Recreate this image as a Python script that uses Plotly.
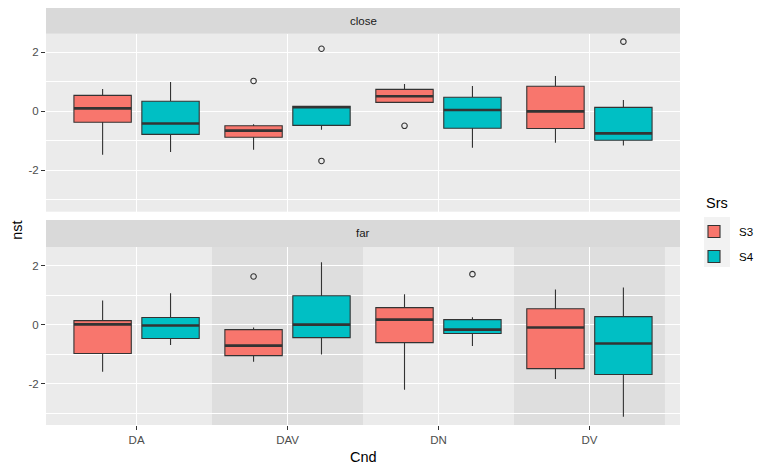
import plotly.graph_objects as go
from plotly.subplots import make_subplots

categories = ["DA", "DAV", "DN", "DV"]
facets = ["close", "far"]
series = ["S3", "S4"]
colors = {"S3": "#F8766D", "S4": "#00BFC4"}
y_tickvals = [-2, 0, 2]
y_ticktext = ["-2", "0", "2"]
y_minorvals = [-3, -1, 1]

# close facet
close_S3_lo = [-1.47, -1.30, 0.305, -1.06]
close_S3_q1 = [-0.37, -0.88, 0.305, -0.58]
close_S3_med = [0.10, -0.655, 0.51, 0.0]
close_S3_q3 = [0.54, -0.49, 0.745, 0.85]
close_S3_hi = [0.76, -0.44, 0.93, 1.20]
close_S3_out = [[], [1.03], [-0.49], []]

close_S4_lo = [-1.38, -0.62, -1.23, -1.16]
close_S4_q1 = [-0.78, -0.475, -0.575, -0.98]
close_S4_med = [-0.41, 0.14, 0.045, -0.745]
close_S4_q3 = [0.34, 0.17, 0.475, 0.135]
close_S4_hi = [0.99, 0.17, 0.86, 0.385]
close_S4_out = [[], [2.12, -1.68], [], [2.36]]

# far facet
far_S3_lo = [-1.60, -1.26, -2.21, -1.84]
far_S3_q1 = [-0.98, -1.05, -0.61, -1.49]
far_S3_med = [0.01, -0.71, 0.17, -0.10]
far_S3_q3 = [0.135, -0.17, 0.575, 0.54]
far_S3_hi = [0.82, -0.10, 1.03, 1.19]
far_S3_out = [[], [1.63], [], []]

far_S4_lo = [-0.69, -1.01, -0.72, -3.12]
far_S4_q1 = [-0.47, -0.44, -0.30, -1.69]
far_S4_med = [-0.03, 0.0, -0.17, -0.64]
far_S4_q3 = [0.24, 0.98, 0.17, 0.27]
far_S4_hi = [1.06, 2.11, 0.25, 1.26]
far_S4_out = [[], [], [1.71], []]

data = {
    ("close", "S3"): (close_S3_lo, close_S3_q1, close_S3_med, close_S3_q3, close_S3_hi, close_S3_out),
    ("close", "S4"): (close_S4_lo, close_S4_q1, close_S4_med, close_S4_q3, close_S4_hi, close_S4_out),
    ("far", "S3"): (far_S3_lo, far_S3_q1, far_S3_med, far_S3_q3, far_S3_hi, far_S3_out),
    ("far", "S4"): (far_S4_lo, far_S4_q1, far_S4_med, far_S4_q3, far_S4_hi, far_S4_out),
}

dodge = {"S3": -0.225, "S4": 0.225}
box_w = 0.38
xpos = [i + 1 for i in range(len(categories))]

# layout geometry (paper fractions)
top_dom = [0.5115, 0.9384]
bot_dom = [0.0, 0.4269]
strip_h = 0.0647

fig = make_subplots(rows=2, cols=1, shared_xaxes=True, vertical_spacing=0.05)

shapes = []
# shaded bands in far panel (below grid)
for c in [2, 4]:
    shapes.append(dict(type="rect", xref="x2", yref="paper", x0=c - 0.5, x1=c + 0.5,
                       y0=bot_dom[0], y1=bot_dom[1],
                       fillcolor="#DEDEDE", line=dict(width=0), layer="below"))
# strips
for dom in [top_dom, bot_dom]:
    shapes.append(dict(type="rect", xref="paper", yref="paper", x0=0, x1=1,
                       y0=dom[1], y1=min(dom[1] + strip_h, 1.0), fillcolor="#D9D9D9",
                       line=dict(width=0), layer="below"))
# legend key background
shapes.append(dict(type="rect", xref="paper", yref="paper", x0=1.0379, x1=1.0789,
                   y0=0.3789, y1=0.4988, fillcolor="#F2F2F2", line=dict(width=0), layer="below"))

for r, facet in enumerate(facets, start=1):
    for s in series:
        lo, q1, med, q3, hi, out = data[(facet, s)]
        xs = [x + dodge[s] for x in xpos]
        fig.add_trace(go.Box(
            x=xs, q1=q1, median=med, q3=q3, lowerfence=lo, upperfence=hi,
            width=box_w, whiskerwidth=0, fillcolor=colors[s],
            line=dict(color="#333333", width=1.1),
            name=s, legendgroup=s, showlegend=(r == 1), boxpoints=False,
        ), row=r, col=1)
        ox, oy = [], []
        for x, vals in zip(xs, out):
            for v in vals:
                ox.append(x)
                oy.append(v)
        if ox:
            fig.add_trace(go.Scatter(
                x=ox, y=oy, mode="markers", showlegend=False, hoverinfo="skip",
                marker=dict(symbol="circle-open", size=5.5, color="#333333",
                            line=dict(width=1.1, color="#333333")),
            ), row=r, col=1)
        xr = "x" if r == 1 else "x2"
        yr = "y" if r == 1 else "y2"
        for x, m in zip(xs, med):
            shapes.append(dict(type="line", xref=xr, yref=yr, x0=x - box_w / 2, x1=x + box_w / 2,
                               y0=m, y1=m, line=dict(color="#333333", width=2.6), layer="above"))

annotations = []
for dom, label in [(top_dom, "close"), (bot_dom, "far")]:
    y1 = min(dom[1] + strip_h, 1.0)
    annotations.append(dict(text=label, xref="paper", yref="paper", x=0.5, y=(dom[1] + y1) / 2,
                            showarrow=False, font=dict(size=11.5, color="#1A1A1A"),
                            xanchor="center", yanchor="middle"))
annotations.append(dict(text="nst", xref="paper", yref="paper", x=-0.046, y=0.4676, textangle=-90,
                        showarrow=False, font=dict(size=14.5, color="black"),
                        xanchor="center", yanchor="middle"))
annotations.append(dict(text="Cnd", xref="paper", yref="paper", x=0.5, y=-0.0767,
                        showarrow=False, font=dict(size=14.5, color="black"),
                        xanchor="center", yanchor="middle"))
annotations.append(dict(text="Srs", xref="paper", yref="paper", x=1.0379, y=0.533,
                        showarrow=False, font=dict(size=14.5, color="black"),
                        xanchor="left", yanchor="middle"))

tickfont = dict(size=11.5, color="#4D4D4D", family="Liberation Sans, Arial, sans-serif")

yax = dict(range=[-3.4, 2.63], tickmode="array", tickvals=y_tickvals, ticktext=y_ticktext,
           minor=dict(tickmode="array", tickvals=y_minorvals, showgrid=True,
                      gridcolor="white", gridwidth=0.55, ticks=""),
           showline=False, zeroline=False, gridcolor="white", gridwidth=1.1,
           ticks="outside", ticklen=4, tickcolor="#333333", tickwidth=1.1, tickfont=tickfont)

fig.update_layout(
    width=762, height=467,
    margin=dict(l=38, r=90, t=0, b=50),
    paper_bgcolor="white", plot_bgcolor="#EBEBEB",
    font=dict(family="Liberation Sans, Arial, sans-serif"),
    boxmode="overlay",
    shapes=shapes, annotations=annotations,
    xaxis=dict(domain=[0, 1], anchor="y", range=[0.4, 4.6], tickmode="array", tickvals=xpos,
               ticktext=categories, showticklabels=False, ticks="", showline=False, zeroline=False,
               gridcolor="white", gridwidth=1.1),
    xaxis2=dict(domain=[0, 1], anchor="y2", matches="x", range=[0.4, 4.6], tickmode="array",
                tickvals=xpos, ticktext=categories, showline=False, zeroline=False,
                gridcolor="white", gridwidth=1.1, ticks="outside", ticklen=4,
                tickcolor="#333333", tickwidth=1.1, tickfont=tickfont),
    yaxis=dict(domain=top_dom, anchor="x", **yax),
    yaxis2=dict(domain=bot_dom, anchor="x2", **yax),
    legend=dict(x=1.0142, xanchor="left", y=0.4988, yanchor="top",
                font=dict(size=11.5, color="black"), tracegroupgap=6, bgcolor="rgba(0,0,0,0)",
                itemwidth=40),
    showlegend=True,
)
fig.write_html("out.html")
